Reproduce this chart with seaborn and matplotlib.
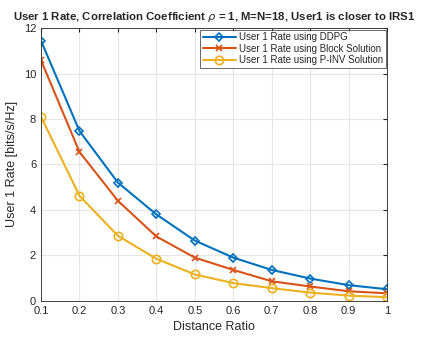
import numpy as np
import pandas as pd
import seaborn as sns
import matplotlib
matplotlib.use("Agg")
import matplotlib.pyplot as plt

# Dados
distance_ratio = [0.1, 0.2, 0.3, 0.4, 0.5, 0.6, 0.7, 0.8, 0.9, 1.0]
rate_ddpg = [11.44, 7.47, 5.2, 3.8, 2.65, 1.9, 1.36, 0.98, 0.69, 0.51]
rate_block = [10.58, 6.55, 4.4, 2.83, 1.9, 1.36, 0.86, 0.63, 0.42, 0.33]
rate_pinv = [8.1, 4.62, 2.86, 1.85, 1.16, 0.78, 0.56, 0.36, 0.23, 0.16]
series_names = ["User 1 Rate using DDPG", "User 1 Rate using Block Solution",
                "User 1 Rate using P-INV Solution"]

df = pd.DataFrame({
    "Distance Ratio": distance_ratio * 3,
    "Rate": rate_ddpg + rate_block + rate_pinv,
    "Method": np.repeat(series_names, len(distance_ratio)),
})

sns.set_style("white")
plt.rcParams['font.family'] = ['Liberation Sans', 'DejaVu Sans']

cores = ["#0072BD", "#D95319", "#EDB120"]
marcadores = ["D", "x", "o"]
tamanhos = [4.5, 4, 6]

fig, ax = plt.subplots(figsize=(4.23, 3.38), dpi=100)
fig.subplots_adjust(left=0.097, right=0.915, top=0.917, bottom=0.11)

for nome, cor, m, t in zip(series_names, cores, marcadores, tamanhos):
    sub = df[df["Method"] == nome]
    sns.lineplot(data=sub, x="Distance Ratio", y="Rate", ax=ax, color=cor,
                 marker=m, markersize=t,
                 markerfacecolor="none", markeredgecolor=cor,
                 markeredgewidth=1.2, linewidth=1.5, label=nome)

ax.set_xlim(0.1, 1)
ax.set_ylim(0, 12)
ax.set_xticks(distance_ratio)
ax.set_xticklabels(["0.1", "0.2", "0.3", "0.4", "0.5", "0.6", "0.7", "0.8", "0.9", "1"])
ax.set_yticks(range(0, 13, 2))
ax.tick_params(direction="in", length=3, labelsize=8, colors="#262626", top=True, right=True)
ax.grid(True, color="#e6e6e6", linewidth=0.8)
for s in ax.spines.values():
    s.set_color("#262626")
    s.set_linewidth(0.6)

ax.set_xlabel("Distance Ratio", fontsize=9, color="#262626")
ax.set_ylabel("User 1 Rate [bits/s/Hz]", fontsize=9, color="#262626")
ax.set_title(r"User 1 Rate, Correlation Coefficient $\rho$ = 1, M=N=18, User1 is closer to IRS1",
             fontsize=8.2, fontweight="bold", pad=6)

leg = ax.legend(loc="upper right", fontsize=7, frameon=True, fancybox=False,
                borderpad=0.3, labelspacing=0.15, handlelength=3.4, handletextpad=0.3,
                borderaxespad=0.15)
leg.get_frame().set_edgecolor("#262626")
leg.get_frame().set_linewidth(0.6)

fig.savefig("out.png", dpi=100)
